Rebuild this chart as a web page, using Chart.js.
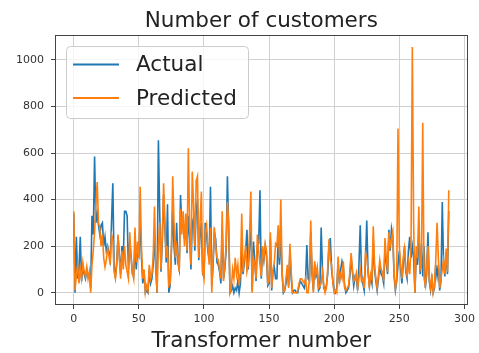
<!DOCTYPE html>
<html>
<head>
<meta charset="utf-8">
<script src="https://cdn.jsdelivr.net/npm/chart.js@4.4.1/dist/chart.umd.min.js"></script>
<style>
  html, body { margin: 0; padding: 0; background: #fff; }
  #contenedor { width: 479px; height: 353px; }
</style>
</head>
<body>
<div id="contenedor"><canvas id="grafica"></canvas></div>
<script>
'use strict';

const titulo = 'Number of customers';
const tituloX = 'Transformer number';
const nombres = ['Actual', 'Predicted'];
const colores = ['#1f77b4', '#ff7f0e'];
const ticksX = [0, 50, 100, 150, 200, 250, 300];
const ticksY = [0, 200, 400, 600, 800, 1000];

// valores (indice 0..288)
const actual = [
    340, 0, 240, 60, 100, 240, 50, 110, 80, 60,
    100, 70, 80, 20, 330, 250, 585, 300, 340, 290,
    250, 290, 300, 200, 240, 180, 200, 170, 140, 300,
    470, 110, 70, 130, 240, 160, 80, 200, 140, 350,
    350, 330, 100, 220, 160, 80, 70, 200, 100, 180,
    160, 300, 150, 40, 90, 0, 10, 0, 100, 40,
    60, 120, 250, 100, 0, 655, 350, 90, 220, 420,
    280, 130, 380, 0, 30, 180, 350, 200, 120, 300,
    130, 100, 420, 280, 300, 230, 290, 170, 330, 240,
    100, 300, 320, 180, 350, 400, 140, 250, 300, 80,
    70, 300, 250, 180, 140, 455, 30, 120, 260, 230,
    130, 120, 90, 40, 280, 60, 100, 180, 500, 260,
    0, 10, 30, 0, 20, 10, 50, 0, 40, 200,
    80, 130, 180, 270, 100, 200, 300, 10, 220, 140,
    50, 200, 210, 440, 60, 190, 140, 200, 160, 30,
    40, 230, 10, 90, 110, 60, 60, 250, 120, 260,
    80, 0, 10, 40, 100, 30, 180, 60, 0, 10,
    10, 0, 0, 30, 50, 40, 30, 20, 50, 205,
    60, 50, 260, 80, 10, 120, 70, 90, 10, 20,
    280, 100, 20, 10, 30, 80, 200, 235, 100, 50,
    10, 0, 20, 130, 40, 100, 135, 110, 30, 0,
    10, 20, 70, 150, 90, 30, 70, 60, 10, 120,
    290, 80, 40, 10, 130, 310, 90, 30, 70, 40,
    220, 100, 50, 10, 60, 120, 80, 70, 40, 180,
    130, 80, 270, 180, 275, 240, 70, 10, 50, 120,
    180, 100, 40, 120, 200, 90, 60, 180, 240, 150,
    200, 150, 0, 160, 120, 260, 80, 210, 70, 200,
    20, 80, 260, 50, 10, 60, 0, 20, 120, 70,
    120, 10, 50, 390, 120, 70, 170, 80, 350
];

const predicted = [
    350, 10, 80, 120, 40, 100, 60, 130, 90, 70,
    110, 60, 90, 0, 120, 180, 260, 380, 475, 300,
    280, 200, 250, 150, 110, 140, 190, 160, 120, 250,
    230, 90, 60, 120, 250, 150, 60, 180, 100, 200,
    120, 90, 60, 260, 150, 90, 60, 280, 130, 220,
    150, 455, 200, 60, 100, 0, 30, 10, 120, 60,
    80, 150, 370, 120, 0, 200, 300, 100, 250, 470,
    300, 150, 200, 30, 40, 200, 500, 300, 150, 200,
    150, 90, 360, 250, 350, 200, 340, 180, 620, 290,
    120, 520, 380, 200, 480, 500, 150, 300, 435, 90,
    60, 260, 290, 200, 120, 280, 0, 150, 280, 200,
    150, 140, 100, 60, 350, 50, 120, 200, 390, 300,
    0, 20, 100, 60, 150, 80, 120, 30, 90, 340,
    90, 150, 200, 90, 120, 250, 435, 0, 150, 120,
    60, 250, 180, 120, 70, 200, 150, 210, 180, 40,
    50, 260, 20, 100, 130, 210, 200, 290, 150, 400,
    90, 5, 10, 60, 120, 20, 210, 90, 0, 0,
    0, 0, 10, 40, 60, 60, 50, 40, 60, 0,
    0, 60, 310, 100, 0, 135, 80, 110, 20, 30,
    40, 90, 30, 0, 20, 100, 230, 140, 120, 40,
    0, 10, 0, 155, 50, 80, 60, 135, 20, 10,
    20, 30, 90, 170, 100, 50, 60, 85, 20, 60,
    100, 50, 60, 20, 170, 150, 100, 20, 80, 60,
    285, 120, 60, 20, 80, 140, 100, 90, 50, 235,
    150, 90, 260, 200, 230, 260, 85, 20, 60, 705,
    200, 120, 60, 150, 190, 100, 75, 130, 80, 200,
    1055, 300, 0, 200, 150, 370, 100, 120, 730, 60,
    30, 100, 200, 60, 20, 80, 0, 30, 140, 300,
    150, 20, 60, 100, 140, 80, 190, 90, 440
];

const transformador = actual.map((_, i) => i);

const fuente = 'DejaVu Sans';
Chart.defaults.font.family = fuente;

// marco de los ejes y leyenda dibujada encima de las lineas
const marcoYLeyenda = {
    id: 'marcoYLeyenda',
    afterDraw(chart) {
        const ctx = chart.ctx;
        const a = chart.chartArea;
        ctx.save();
        ctx.strokeStyle = '#444';
        ctx.lineWidth = 1;
        ctx.strokeRect(Math.round(a.left) + 0.5, Math.round(a.top) + 0.5,
            Math.round(a.right - a.left) - 1, Math.round(a.bottom - a.top) - 1);

        ctx.beginPath();
        if (ctx.roundRect) ctx.roundRect(66.5, 46.5, 182, 72, 4);
        else ctx.rect(66.5, 46.5, 182, 72);
        ctx.fillStyle = 'rgba(255,255,255,0.8)';
        ctx.fill();
        ctx.strokeStyle = '#cccccc';
        ctx.stroke();

        ctx.font = '21.5px "' + fuente + '"';
        ctx.textBaseline = 'middle';
        ctx.textAlign = 'left';
        chart.data.datasets.forEach((ds, i) => {
            const y = 64.5 + i * 33.5;
            ctx.beginPath();
            ctx.moveTo(73, y);
            ctx.lineTo(119, y);
            ctx.strokeStyle = ds.borderColor;
            ctx.lineWidth = 2;
            ctx.stroke();
            ctx.fillStyle = '#222';
            ctx.fillText(ds.label, 136, y + 1);
        });
        ctx.restore();
    }
};

new Chart(document.getElementById('grafica').getContext('2d'), {
    type: 'line',
    data: {
        datasets: [
            {
                label: nombres[0],
                data: actual.map((v, i) => ({ x: transformador[i], y: v })),
                borderColor: colores[0],
                backgroundColor: colores[0],
                borderWidth: 1.6,
                pointRadius: 0,
                tension: 0,
                fill: false,
                order: 2
            },
            {
                label: nombres[1],
                data: predicted.map((v, i) => ({ x: transformador[i], y: v })),
                borderColor: colores[1],
                backgroundColor: colores[1],
                borderWidth: 1.6,
                pointRadius: 0,
                tension: 0,
                fill: false,
                order: 1
            }
        ]
    },
    options: {
        responsive: true,
        maintainAspectRatio: false,
        animation: false,
        events: [],
        layout: { padding: { left: 0, right: 10, top: 0, bottom: 0 } },
        plugins: {
            legend: { display: false },
            tooltip: { enabled: false },
            title: {
                display: true,
                fullSize: false,
                text: titulo,
                color: '#222',
                font: { size: 21.5, weight: 'normal' },
                padding: { top: 9, bottom: 0 }
            }
        },
        scales: {
            x: {
                type: 'linear',
                min: -14.4,
                max: 302.4,
                afterBuildTicks: (eje) => { eje.ticks = ticksX.map(v => ({ value: v })); },
                afterFit: (eje) => { eje.height = 48; },
                border: { display: false },
                grid: { color: '#d0d0d0', lineWidth: 1, drawTicks: true, tickLength: 4, tickColor: '#444' },
                ticks: { color: '#333', font: { size: 11 }, padding: 4, maxRotation: 0, autoSkip: false, callback: (v) => String(v) },
                title: {
                    display: true,
                    text: tituloX,
                    color: '#222',
                    font: { size: 21.5, lineHeight: 1.1 },
                    padding: 0
                }
            },
            y: {
                min: -52.75,
                max: 1107.75,
                afterBuildTicks: (eje) => { eje.ticks = ticksY.map(v => ({ value: v })); },
                afterFit: (eje) => { eje.width = 55; },
                border: { display: false },
                grid: { color: '#d0d0d0', lineWidth: 1, drawTicks: true, tickLength: 4, tickColor: '#444' },
                ticks: { color: '#333', font: { size: 11 }, padding: 7, autoSkip: false, callback: (v) => String(v) }
            }
        }
    },
    plugins: [marcoYLeyenda]
});
</script>
</body>
</html>
